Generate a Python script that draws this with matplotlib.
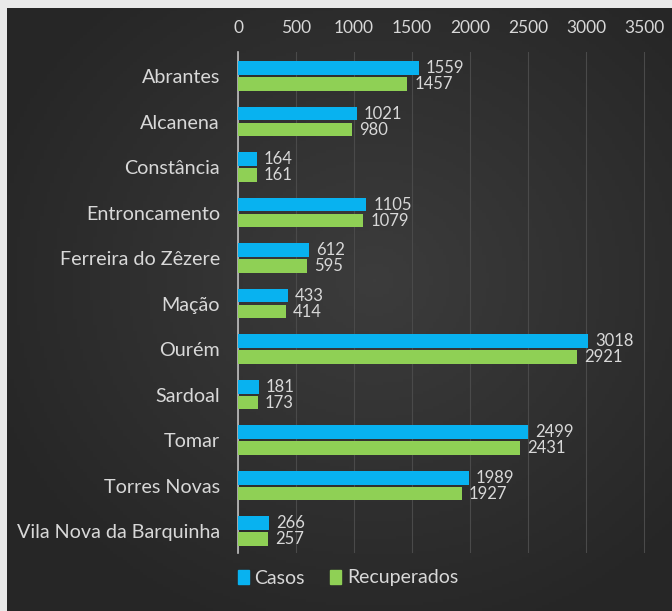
import matplotlib
matplotlib.use("Agg")
import matplotlib.pyplot as plt
import numpy as np
from matplotlib.patches import Patch

categories = ["Abrantes", "Alcanena", "Constância", "Entroncamento", "Ferreira do Zêzere",
              "Mação", "Ourém", "Sardoal", "Tomar", "Torres Novas", "Vila Nova da Barquinha"]
casos = [1559, 1021, 164, 1105, 612, 433, 3018, 181, 2499, 1989, 266]
recuperados = [1457, 980, 161, 1079, 595, 414, 2921, 173, 2431, 1927, 257]
xticks = [0, 500, 1000, 1500, 2000, 2500, 3000, 3500]

BLUE = "#08b2f0"
GREEN = "#8fd055"
TXT = "#d8d8d8"
FONT = ["Lato", "DejaVu Sans"]

W, H = 672, 611
fig = plt.figure(figsize=(W / 100, H / 100), dpi=100)
fig.patch.set_facecolor("#e9e9e9")

# dark background panel with radial gradient
bg = fig.add_axes([7 / W, 0, 1 - 7 / W, 1 - 8 / H])
bg.set_axis_off()
yy, xx = np.mgrid[0:200, 0:200]
r = np.sqrt(((xx - 110) / 125.0) ** 2 + ((yy - 90) / 125.0) ** 2)
val = np.clip(1 - r, 0, 1)
c0 = np.array([0x26, 0x26, 0x26]) / 255
c1 = np.array([0x3c, 0x3c, 0x3c]) / 255
img = c0[None, None, :] + (c1 - c0)[None, None, :] * val[:, :, None]
bg.imshow(img, aspect="auto", extent=[0, 1, 0, 1], zorder=0)
bg.set_xlim(0, 1)
bg.set_ylim(0, 1)

left, right, top, bottom = 238, 656, 52, 553
ax = fig.add_axes([left / W, 1 - bottom / H, (right - left) / W, (bottom - top) / H])
ax.patch.set_alpha(0)

y = np.arange(len(categories))
h = 0.3
off = 0.175
ax.barh(y - off, casos, height=h, color=BLUE, zorder=3)
ax.barh(y + off, recuperados, height=h, color=GREEN, zorder=3)

for yi, c, r_ in zip(y, casos, recuperados):
    ax.annotate(str(c), (c, yi - off), xytext=(5, 0), textcoords="offset points",
                color=TXT, fontsize=12, va="center", ha="left", family=FONT, zorder=4)
    ax.annotate(str(r_), (r_, yi + off), xytext=(5, 0), textcoords="offset points",
                color=TXT, fontsize=12, va="center", ha="left", family=FONT, zorder=4)

ax.set_xlim(0, 3600)
ax.set_ylim(10.48, -0.53)
ax.set_xticks(xticks)
ax.xaxis.tick_top()
ax.tick_params(axis="x", length=0, pad=11.5, labelcolor=TXT, labelsize=12.5)
ax.set_yticks(y)
ax.set_yticklabels(categories)
ax.tick_params(axis="y", length=0, pad=13, labelcolor=TXT, labelsize=14.2)
for lbl in ax.get_xticklabels() + ax.get_yticklabels():
    lbl.set_family(FONT)
ax.grid(axis="x", color="#4a4a4a", linewidth=0.8, zorder=1)
for s in ["top", "right", "bottom"]:
    ax.spines[s].set_visible(False)
ax.spines["left"].set_color("#bfbfbf")
ax.spines["left"].set_linewidth(1.2)

handles = [Patch(color=BLUE, label="Casos"), Patch(color=GREEN, label="Recuperados")]
leg = fig.legend(handles=handles, loc="center", bbox_to_anchor=(348 / W, 1 - 578 / H),
                 ncol=2, frameon=False, handlelength=0.55, handleheight=0.75,
                 handletextpad=0.3, columnspacing=1.3,
                 prop={"family": FONT, "size": 14})
for t in leg.get_texts():
    t.set_color(TXT)

fig.savefig("out.png", dpi=100, facecolor=fig.get_facecolor())
